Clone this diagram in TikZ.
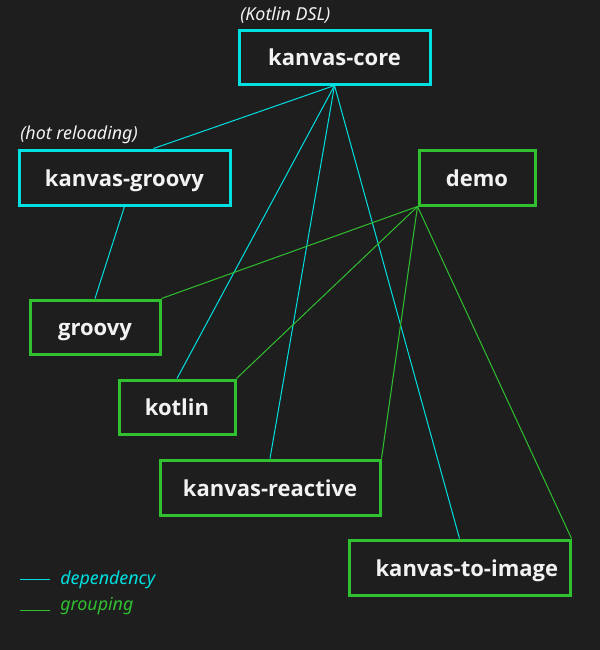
\documentclass[tikz,border=0pt]{standalone}
\usepackage{fontspec}
\setmainfont{Open Sans}
\newfontfamily\notefont{Noto Sans}
\usetikzlibrary{calc}
\definecolor{bg}{HTML}{1E1E1E}
\definecolor{dep}{HTML}{00E0E0}
\definecolor{grp}{HTML}{30C030}
\definecolor{txt}{HTML}{F2F2F2}
\tikzset{
  mod/.style={draw=#1, line width=2.25pt, fill=bg, text=txt, font=\fontsize{16.5}{19}\selectfont\bfseries,
    inner sep=0pt, anchor=center, text height=13.3pt, text depth=0.5pt},
  note/.style={text=txt, font=\notefont\fontsize{13.4}{16}\selectfont\itshape, anchor=base west, inner sep=0pt},
  depline/.style={dep, line width=0.75pt},
  grpline/.style={grp, line width=0.75pt},
  legtext/.style={font=\notefont\fontsize{13.4}{16}\selectfont\itshape, anchor=base west, inner sep=0pt},
}
\begin{document}
\begin{tikzpicture}[x=0.75pt, y=-0.75pt]
\fill[bg] (0,0) rectangle (600,650);
\useasboundingbox (0,0) rectangle (600,650);

% modules
\node[mod=dep, minimum width=143.25pt, minimum height=40.5pt] (core) at (334.5,57) {kanvas-core};
\node[mod=dep, minimum width=158.25pt, minimum height=41.25pt] (kg) at (124.5,177.5) {kanvas-groovy};
\node[mod=grp, minimum width=87pt, minimum height=41.25pt] (demo) at (477,177.5) {demo};
\node[mod=grp, minimum width=97.5pt, minimum height=40.5pt] (groovy) at (95,327) {groovy};
\node[mod=grp, minimum width=87pt, minimum height=40.5pt] (kotlin) at (177,407) {kotlin};
\node[mod=grp, minimum width=165pt, minimum height=41.25pt] (reactive) at (270,487.5) {kanvas-reactive};
\node[mod=grp, minimum width=165.75pt, minimum height=41.25pt] (toimage) at (459.5,567.5) {\hspace{11pt}kanvas-to-image};

% annotations
\node[note] (dsl) at (240,20) {(Kotlin DSL)};
\node[note] (hot) at (20,139) {(hot reloading)};

% dependencies
\draw[depline] (core.south) -- ([xshift=21.75pt]kg.north);
\draw[depline] (core.south) -- (kotlin.north);
\draw[depline] (core.south) -- (reactive.north);
\draw[depline] (core.south) -- (toimage.north);
\draw[depline] (kg.south) -- (groovy.north);

% grouping
\draw[grpline] (demo.south west) -- (groovy.north east);
\draw[grpline] (demo.south west) -- (kotlin.north east);
\draw[grpline] (demo.south west) -- (reactive.north east);
\draw[grpline] (demo.south west) -- (toimage.north east);

% legend
\coordinate (ld0) at (20,579);
\coordinate (ld1) at (50,579);
\coordinate (lg0) at (20,610);
\coordinate (lg1) at (50,610);
\draw[depline] (ld0) -- (ld1);
\draw[grpline] (lg0) -- (lg1);
\node[legtext, text=dep] (ldt) at (60,584) {dependency};
\node[legtext, text=grp] (lgt) at (60,610) {grouping};
\end{tikzpicture}
\end{document}
